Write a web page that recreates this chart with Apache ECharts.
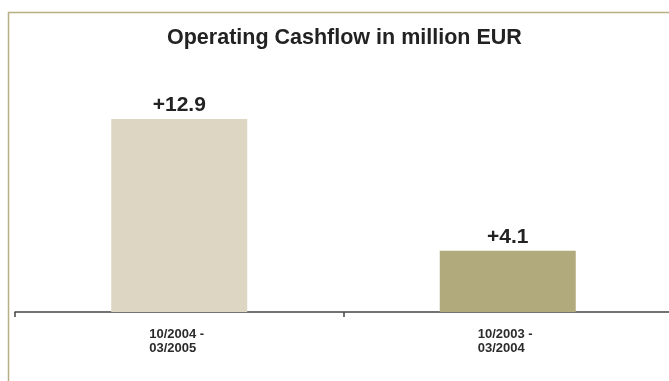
<!DOCTYPE html>
<html><head><meta charset="utf-8">
<script src="https://cdn.jsdelivr.net/npm/echarts@6/dist/echarts.min.js"></script>
<style>html,body{margin:0;padding:0;background:#fff}#c{width:669px;height:381px}</style>
</head><body><div id="c"></div>
<script>
const titleText = 'Operating Cashflow in million EUR';
const categories = ['10/2004 -\n03/2005', '10/2003 -\n03/2004'];
const values = [12.9, 4.1];
const barColors = ['#ddd6c3', '#b1aa7c'];

const chart = echarts.init(document.getElementById('c'), null, {renderer: 'canvas'});
chart.setOption({
  animation: false,
  backgroundColor: '#fff',
  title: {
    text: titleText, left: 162, top: 22,
    textStyle: {fontFamily: 'Liberation Sans, Arial, sans-serif', fontWeight: 'bold', fontSize: 21.5, color: '#222'}
  },
  graphic: [{
    type: 'polyline', silent: true,
    shape: {points: [[8.5, 381], [8.5, 12.5], [669, 12.5]]},
    style: {stroke: '#b7ae83', lineWidth: 1.5, fill: null}
  }],
  grid: {left: 15, width: 657, top: 87.6, bottom: 69, containLabel: false, outerBoundsMode: 'none'},
  xAxis: {
    type: 'category', data: categories, boundaryGap: true,
    axisLine: {lineStyle: {color: '#444', width: 1.5}},
    axisTick: {show: true, length: 5, lineStyle: {color: '#444', width: 1.5}},
    axisLabel: {
      margin: 15, interval: 0,
      formatter: v => v.split('\n').map(s => '{a|' + s + '}').join('\n'),
      rich: {a: {width: 60, align: 'left', fontFamily: 'Liberation Sans, Arial, sans-serif', fontWeight: 'bold', fontSize: 13, lineHeight: 14, color: '#2b2b2b'}}
    }
  },
  yAxis: {type: 'value', min: 0, max: 15, show: false, splitLine: {show: false}},
  series: [{
    type: 'bar', barWidth: 136,
    data: values.map((v, i) => ({value: v, itemStyle: {color: barColors[i]}})),
    label: {
      show: true, position: 'top', distance: 3,
      formatter: p => '+' + p.value.toFixed(1),
      fontFamily: 'Liberation Sans, Arial, sans-serif', fontWeight: 'bold', fontSize: 21, color: '#222'
    }
  }]
});
</script></body></html>
